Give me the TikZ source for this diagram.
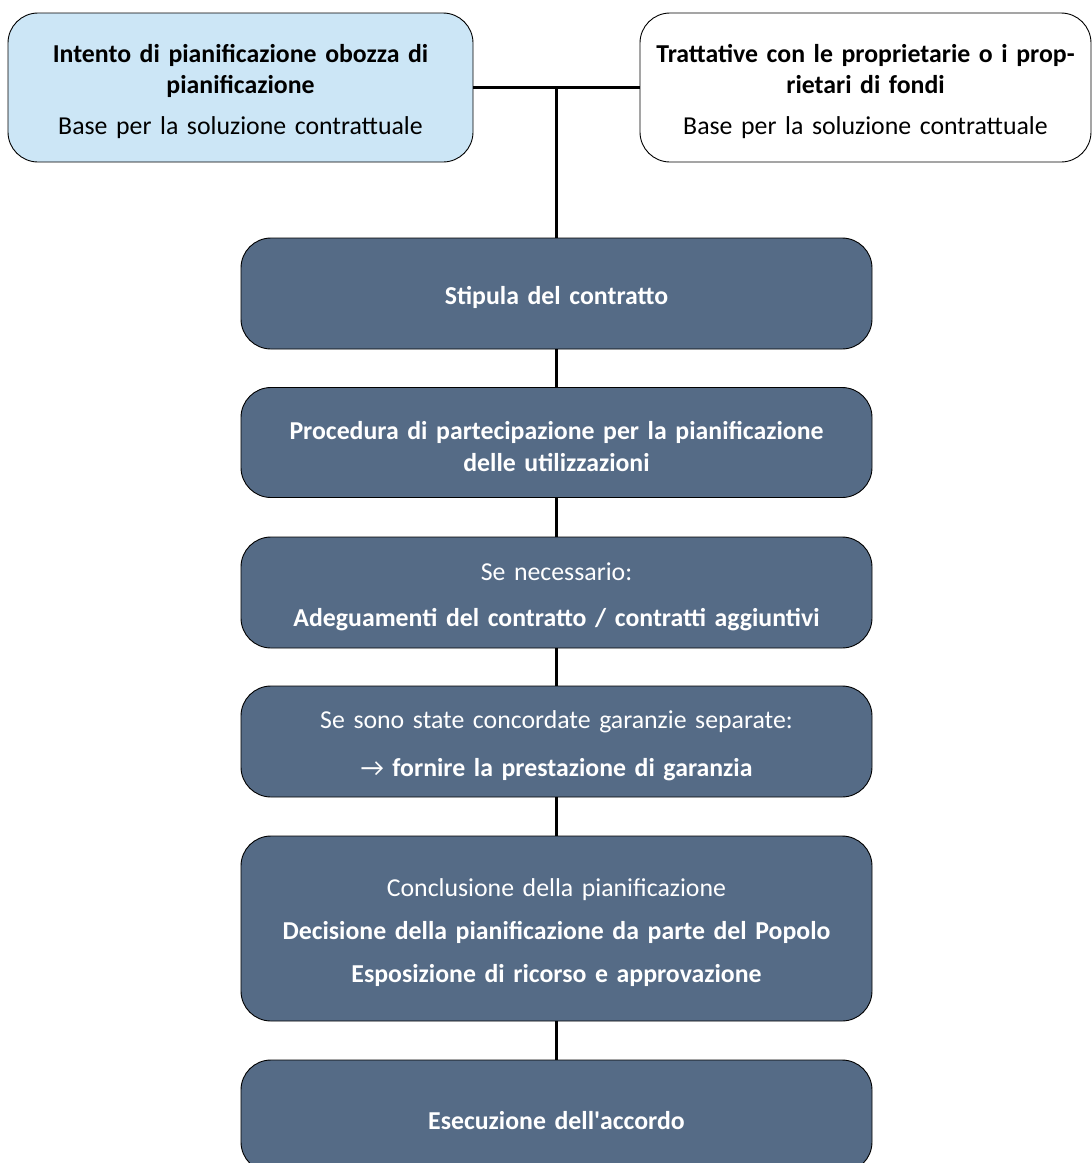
\documentclass[tikz,border=0pt]{standalone}
\usepackage{fontspec}
\setmainfont{Carlito}
\usepackage{tikz}

\definecolor{stepblue}{RGB}{85,107,134}
\definecolor{lightblue}{RGB}{204,230,246}

\tikzset{
  topbox/.style={draw=black, line width=0.9pt, rounded corners=30pt, minimum height=149pt, text width=440pt, align=center, font=\fontsize{25.8}{31}\selectfont, execute at begin node={\rule{0pt}{27pt}}},
  stepbox/.style={draw=black, line width=0.9pt, rounded corners=30pt, fill=stepblue, text=white, minimum width=631pt, text width=620pt, align=center, font=\fontsize{25.8}{32}\selectfont, execute at begin node={\rule{0pt}{27pt}}},
  link/.style={line width=2.2pt, black}
}

\begin{document}
\begin{tikzpicture}[x=1pt,y=-1pt]
            \useasboundingbox (0,0) rectangle (1092,1163);

            % Top boxes
            \node[topbox, fill=lightblue, minimum width=465pt] (intent) at (240.5,87.5) {\textbf{Intento di pianificazione obozza di}\\\textbf{pianificazione}\\[10pt]Base per la soluzione contrattuale};
            \node[topbox, fill=white, minimum width=451pt] (talks) at (865.5,87.5) {\textbf{Trattative con le proprietarie o i prop-}\\\textbf{rietari di fondi}\\[10pt]Base per la soluzione contrattuale};

            % Steps
            \node[stepbox, minimum height=111pt] (contract) at (556.5,293.5) {\textbf{Stipula del contratto}};
            \node[stepbox, minimum height=110pt] (participation) at (556.5,442.5) {\textbf{Procedura di partecipazione per la pianificazione}\\\textbf{delle utilizzazioni}};
            \node[stepbox, minimum height=111pt] (adjust) at (556.5,592.5) {Se necessario:\\[14pt]\textbf{Adeguamenti del contratto / contratti aggiuntivi}};
            \node[stepbox, minimum height=111pt] (guarantee) at (556.5,741.5) {Se sono state concordate garanzie separate:\\[16pt]→ \textbf{fornire la prestazione di garanzia}};
            \node[stepbox, minimum height=185pt] (conclusion) at (556.5,928.5) {Conclusione della pianificazione\\[11pt]\textbf{Decisione della pianificazione da parte del Popolo}\\[11pt]\textbf{Esposizione di ricorso e approvazione}};
            \node[stepbox, minimum height=112pt] (execution) at (556.5,1116) {\textbf{Esecuzione dell\textquotesingle accordo}};

            % Connectors
            \draw[link] (intent.east) -- (talks.west);
            \coordinate (joint) at (contract.north |- intent.east);
            \draw[link] (joint) -- (contract.north);
            \draw[link] (contract) -- (participation);
            \draw[link] (participation) -- (adjust);
            \draw[link] (adjust) -- (guarantee);
            \draw[link] (guarantee) -- (conclusion);
            \draw[link] (conclusion) -- (execution);
\end{tikzpicture}
\end{document}
